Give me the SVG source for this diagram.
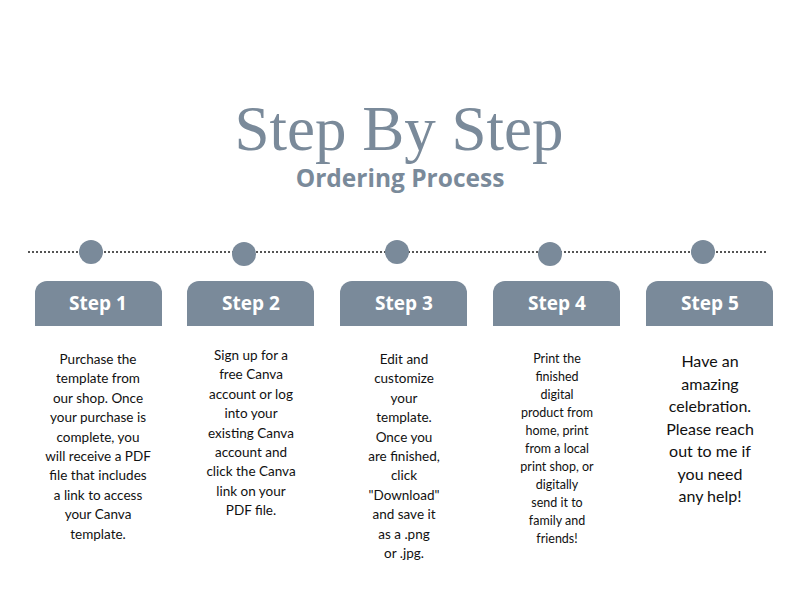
<svg xmlns="http://www.w3.org/2000/svg" width="794" height="596" viewBox="0 0 794 596">
<style>
.tab{fill:#7a8a9a}
.dot{fill:#7a8a9a}
.lbl{font-family:"Open Sans","Liberation Sans",sans-serif;font-weight:700;font-size:19px;fill:#fff;text-anchor:middle}
.b{font-family:"Lato","Liberation Sans",sans-serif;font-size:13.5px;fill:#111;text-anchor:middle}
</style>
<rect width="794" height="596" fill="#fff"/>
<text x="399" y="150" text-anchor="middle" font-family="Liberation Serif,serif" font-size="63" fill="#7a8a9a">Step By Step</text>
<text x="400" y="187" text-anchor="middle" font-family="Open Sans,Liberation Sans,sans-serif" font-weight="700" font-size="24.5" fill="#7a8a9a">Ordering Process</text>
<g id="connectors">
<line x1="28" y1="252" x2="766" y2="252" stroke="#555" stroke-width="2" stroke-dasharray="2 2"/>
</g>
<g id="step1"><circle class="dot" cx="91" cy="252" r="12"/><path class="tab" d="M35 326V293a12 12 0 0 1 12-12h103a12 12 0 0 1 12 12v33z"/><text class="lbl" x="98" y="310">Step 1</text>
<text class="b" x="98" y="364"><tspan x="98">Purchase the</tspan><tspan x="98" dy="19.4">template from</tspan><tspan x="98" dy="19.4">our shop. Once</tspan><tspan x="98" dy="19.4">your purchase is</tspan><tspan x="98" dy="19.4">complete, you</tspan><tspan x="98" dy="19.4">will receive a PDF</tspan><tspan x="98" dy="19.4">file that includes</tspan><tspan x="98" dy="19.4">a link to access</tspan><tspan x="98" dy="19.4">your Canva</tspan><tspan x="98" dy="19.4">template.</tspan></text></g>
<g id="step2"><circle class="dot" cx="244" cy="254" r="12"/><path class="tab" d="M187 326V293a12 12 0 0 1 12-12h103a12 12 0 0 1 12 12v33z"/><text class="lbl" x="251" y="310">Step 2</text>
<text class="b" x="251" y="360"><tspan x="251">Sign up for a</tspan><tspan x="251" dy="19.4">free Canva</tspan><tspan x="251" dy="19.4">account or log</tspan><tspan x="251" dy="19.4">into your</tspan><tspan x="251" dy="19.4">existing Canva</tspan><tspan x="251" dy="19.4">account and</tspan><tspan x="251" dy="19.4">click the Canva</tspan><tspan x="251" dy="19.4">link on your</tspan><tspan x="251" dy="19.4">PDF file.</tspan></text></g>
<g id="step3"><circle class="dot" cx="397" cy="252" r="12"/><path class="tab" d="M340 326V293a12 12 0 0 1 12-12h103a12 12 0 0 1 12 12v33z"/><text class="lbl" x="404" y="310">Step 3</text>
<text class="b" x="404" y="364"><tspan x="404">Edit and</tspan><tspan x="404" dy="19.4">customize</tspan><tspan x="404" dy="19.4">your</tspan><tspan x="404" dy="19.4">template.</tspan><tspan x="404" dy="19.4">Once you</tspan><tspan x="404" dy="19.4">are finished,</tspan><tspan x="404" dy="19.4">click</tspan><tspan x="404" dy="19.4">"Download"</tspan><tspan x="404" dy="19.4">and save it</tspan><tspan x="404" dy="19.4">as a .png</tspan><tspan x="404" dy="19.4">or .jpg.</tspan></text></g>
<g id="step4"><circle class="dot" cx="550" cy="254" r="12"/><path class="tab" d="M493 326V293a12 12 0 0 1 12-12h103a12 12 0 0 1 12 12v33z"/><text class="lbl" x="557" y="310">Step 4</text>
<text class="b" x="557" y="363" style="font-size:12.5px"><tspan x="557">Print the</tspan><tspan x="557" dy="18">finished</tspan><tspan x="557" dy="18">digital</tspan><tspan x="557" dy="18">product from</tspan><tspan x="557" dy="18">home, print</tspan><tspan x="557" dy="18">from a local</tspan><tspan x="557" dy="18">print shop, or</tspan><tspan x="557" dy="18">digitally</tspan><tspan x="557" dy="18">send it to</tspan><tspan x="557" dy="18">family and</tspan><tspan x="557" dy="18">friends!</tspan></text></g>
<g id="step5"><circle class="dot" cx="703" cy="252" r="12"/><path class="tab" d="M646 326V293a12 12 0 0 1 12-12h103a12 12 0 0 1 12 12v33z"/><text class="lbl" x="710" y="310">Step 5</text>
<text class="b" x="710" y="367" style="font-size:16px"><tspan x="710">Have an</tspan><tspan x="710" dy="22.5">amazing</tspan><tspan x="710" dy="22.5">celebration.</tspan><tspan x="710" dy="22.5">Please reach</tspan><tspan x="710" dy="22.5">out to me if</tspan><tspan x="710" dy="22.5">you need</tspan><tspan x="710" dy="22.5">any help!</tspan></text></g>
</svg>
